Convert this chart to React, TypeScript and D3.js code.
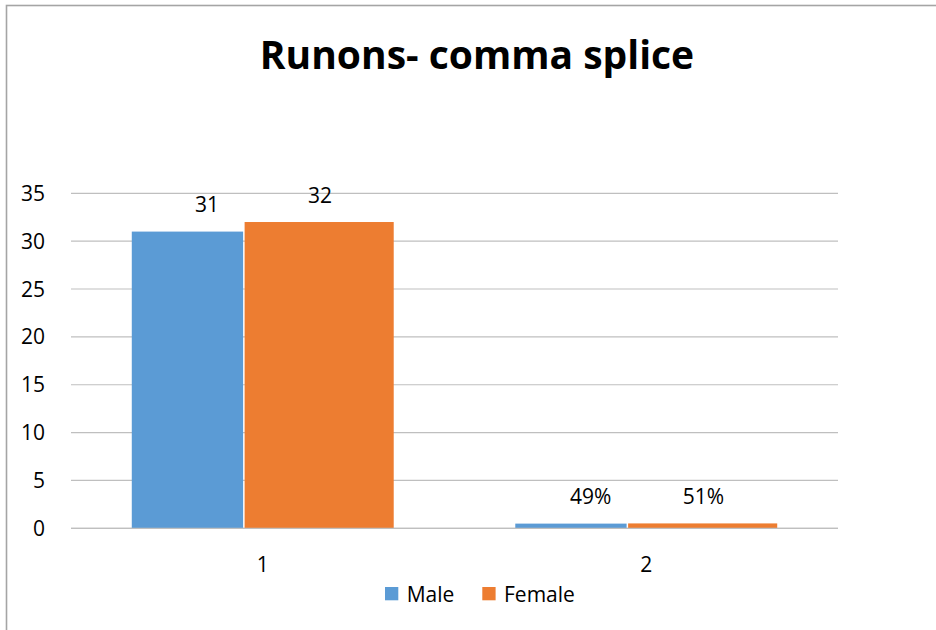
import React from "react";
import * as d3 from "d3";

// Chart data
const categories: string[] = ["1", "2"];
const seriesNames: string[] = ["Male", "Female"];
const maleValues: number[] = [31, 0.49];
const femaleValues: number[] = [32, 0.51];
const maleLabels: string[] = ["31", "49%"];
const femaleLabels: string[] = ["32", "51%"];
const yTicks: number[] = [0, 5, 10, 15, 20, 25, 30, 35];

const COLORS = ["#5B9BD5", "#ED7D31"];
// share of each category group taken by each series bar
const SHARES = [0.425, 0.575];

const W = 936;
const H = 630;
const plot = { left: 71, right: 838, top: 193.3, bottom: 528.3 };
const FONT = "'Open Sans', 'Noto Sans', sans-serif";

export default function App() {
  const x = d3
    .scaleBand<string>()
    .domain(categories)
    .range([plot.left, plot.right])
    .paddingInner(0.317)
    .paddingOuter(0.1585);
  const y = d3.scaleLinear().domain([0, 35]).range([plot.bottom, plot.top]);

  const series = [
    { name: seriesNames[0], values: maleValues, labels: maleLabels },
    { name: seriesNames[1], values: femaleValues, labels: femaleLabels },
  ];
  const bw = x.bandwidth();
  const widths = SHARES.map((s) => s * bw);
  const maxW = Math.max(...widths);

  const legendItems = [
    { name: seriesNames[0], color: COLORS[0], x: 385 },
    { name: seriesNames[1], color: COLORS[1], x: 482.3 },
  ];

  return (
    <svg
      width={W}
      height={H}
      style={{ position: "absolute", left: 0, top: 0, background: "#fff" }}
      fontFamily={FONT}
    >
      <rect x={0} y={0} width={W} height={H} fill="#fff" />
      {/* chart frame */}
      <rect
        x={6.5}
        y={5.5}
        width={W + 20}
        height={H + 20}
        fill="none"
        stroke="#a5a5a5"
        strokeWidth={1.6}
      />

      <text
        x={477}
        y={69}
        textAnchor="middle"
        fontSize={39}
        fontWeight={700}
        fill="#000"
      >
        Runons- comma splice
      </text>

      {/* gridlines */}
      {yTicks.map((t) => (
        <line
          key={"g" + t}
          x1={plot.left}
          x2={plot.right}
          y1={y(t)}
          y2={y(t)}
          stroke="#bfbfbf"
          strokeWidth={1.2}
        />
      ))}

      {/* y tick labels */}
      {yTicks.map((t) => (
        <text
          key={"t" + t}
          x={45}
          y={y(t)}
          dy="0.36em"
          textAnchor="end"
          fontSize={21}
          fill="#000"
        >
          {t}
        </text>
      ))}

      {/* bars */}
      {categories.map((c, ci) => {
        const x0 = x(c) as number;
        let offset = 0;
        return (
          <g key={c}>
            {series.map((s, si) => {
              const left = x0 + offset + (si > 0 ? 1.5 : 0);
              const w = widths[si] - (si > 0 ? 1.5 : 0);
              offset += widths[si];
              const top = y(s.values[ci]);
              return (
                <g key={s.name}>
                  <rect
                    x={left}
                    y={top}
                    width={w}
                    height={y(0) - top}
                    fill={COLORS[si]}
                  />
                  <text
                    x={left + maxW / 2}
                    y={top - 19.5}
                    textAnchor="middle"
                    fontSize={21}
                    fill="#000"
                  >
                    {s.labels[ci]}
                  </text>
                </g>
              );
            })}
          </g>
        );
      })}

      {/* baseline */}
      <line
        x1={plot.left}
        x2={plot.right}
        y1={y(0)}
        y2={y(0)}
        stroke="#bfbfbf"
        strokeWidth={1.2}
      />

      {/* category labels */}
      {categories.map((c) => (
        <text
          key={"c" + c}
          x={(x(c) as number) + bw / 2}
          y={571.5}
          textAnchor="middle"
          fontSize={21}
          fill="#000"
        >
          {c}
        </text>
      ))}

      {/* legend */}
      {legendItems.map((it) => (
        <g key={it.name}>
          <rect x={it.x} y={587} width={13.3} height={13.3} fill={it.color} />
          <text x={it.x + 21.7} y={601.5} fontSize={21} fill="#000">
            {it.name}
          </text>
        </g>
      ))}
    </svg>
  );
}
